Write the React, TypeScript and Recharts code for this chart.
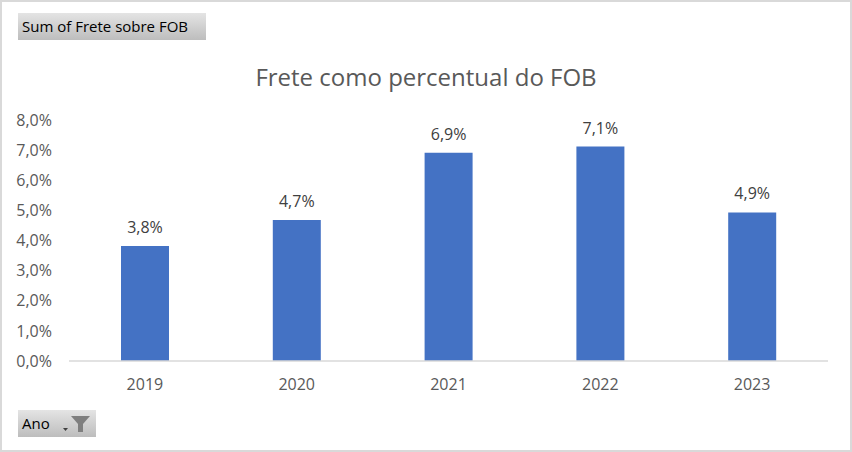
import { Bar, BarChart, LabelList, XAxis, YAxis } from 'recharts';

const years = ['2019', '2020', '2021', '2022', '2023'];
const freightShare = [3.82, 4.68, 6.91, 7.12, 4.93];
const yTicks = [0, 1, 2, 3, 4, 5, 6, 7, 8];

const chartData = years.map((ano, i) => ({ ano, frete: freightShare[i] }));

const FONT = '"Open Sans", "Noto Sans", sans-serif';

function pct(v: number) {
  return `${v.toFixed(1).replace('.', ',')}%`;
}

const buttonStyle: React.CSSProperties = {
  position: 'absolute',
  left: 16,
  height: 27,
  boxSizing: 'border-box',
  background: 'linear-gradient(#e4e4e4, #bdbdbd)',
  color: '#000',
  fontFamily: FONT,
  fontSize: 15,
  lineHeight: '27px',
  paddingLeft: 4,
};

export default function App() {
  return (
    <div
      style={{
        position: 'absolute',
        left: 0,
        top: 0,
        width: 852,
        height: 452,
        boxSizing: 'border-box',
        border: '2px solid #d9d9d9',
        background: '#fff',
        overflow: 'hidden',
      }}
    >
      <div style={{ ...buttonStyle, top: 11, width: 188 }}>Sum of Frete sobre FOB</div>
      <div
        style={{
          position: 'absolute',
          left: 0,
          width: 848,
          top: 58,
          textAlign: 'center',
          fontFamily: FONT,
          fontSize: 24,
          color: '#595959',
        }}
      >
        Frete como percentual do FOB
      </div>
      <div style={{ position: 'absolute', left: -2, top: -2 }}>
        <BarChart
          width={852}
          height={452}
          data={chartData}
          margin={{ top: 120, right: 24, bottom: 61, left: 0 }}
        >
          <XAxis
            dataKey="ano"
            axisLine={{ stroke: '#d9d9d9', strokeWidth: 1.5 }}
            tickLine={false}
            tickMargin={12}
            tick={{ fill: '#595959', fontSize: 16, fontFamily: FONT }}
          />
          <YAxis
            width={69}
            domain={[0, 8]}
            ticks={yTicks}
            interval={0}
            axisLine={false}
            tickLine={false}
            tickMargin={11}
            tickFormatter={pct}
            tick={{ fill: '#595959', fontSize: 16, fontFamily: FONT }}
          />
          <Bar dataKey="frete" fill="#4472c4" barSize={48} isAnimationActive={false}>
            <LabelList
              dataKey="frete"
              position="top"
              offset={13}
              formatter={(v: number) => pct(v)}
              style={{ fill: '#404040', fontSize: 16, fontFamily: FONT }}
            />
          </Bar>
        </BarChart>
      </div>
      <div style={{ ...buttonStyle, top: 408, width: 78 }}>
        Ano
        <svg width="30" height="20" style={{ position: 'absolute', left: 44, top: 4 }}>
          <path d="M1 14 L6 14 L3.5 17 Z" fill="#404040" />
          <path d="M9 2 L28 2 L21 10 L21 18 L16 18 L16 10 Z" fill="#7f7f7f" />
        </svg>
      </div>
    </div>
  );
}
